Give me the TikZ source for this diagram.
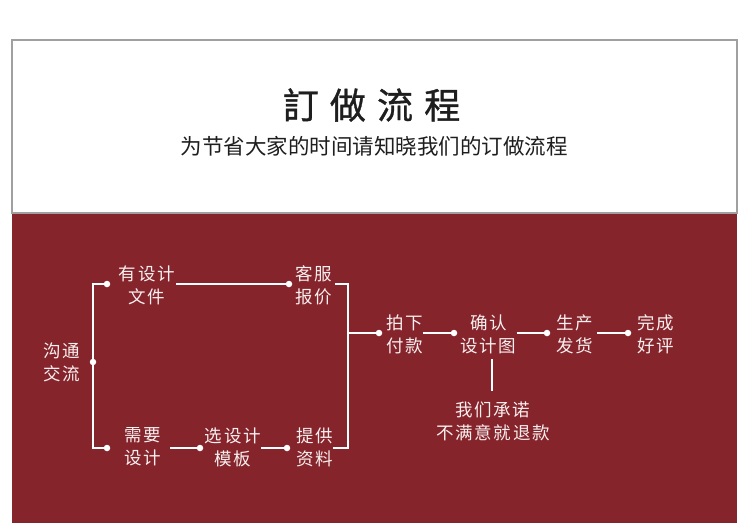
\documentclass[tikz,border=0pt]{standalone}
\usepackage{fontspec}
\newfontfamily\cjk{Noto Sans CJK SC}
\newfontfamily\cjkls[LetterSpace=10]{Noto Sans CJK SC}
\newfontfamily\cjktitle[LetterSpace=31,FakeBold=1]{Noto Sans CJK SC}
\definecolor{band}{RGB}{134,36,44}
\definecolor{framegray}{RGB}{160,160,160}
\definecolor{ink}{RGB}{30,30,30}
\definecolor{lbltext}{RGB}{248,240,240}
\newcommand\lk{\kern1.75pt}
\begin{document}
\begin{tikzpicture}[x=1pt,y=-1pt,
  lbl/.style={font=\cjkls\fontsize{17.5}{23}\selectfont, text=lbltext, align=center, inner sep=0pt},
  conn/.style={draw=white, line width=1.3pt},
  dotm/.style={circle, fill=white, inner sep=0pt, minimum size=6.5pt}]
\useasboundingbox (0,0) rectangle (750,531);
\fill[white] (0,0) rectangle (750,531);
\fill[band] (12,213) rectangle (737,523);
\draw[framegray, line width=2pt] (12,40) rectangle (737,213);

\node[font=\cjktitle\fontsize{36}{36}\selectfont, text=ink, inner sep=0pt] (title) at (366,105) {\kern11pt 訂做流程};
\node[font=\cjk\fontsize{21.5}{21.5}\selectfont, text=ink, inner sep=0pt] (sub) at (374,146) {为节省大家的时间请知晓我们的订做流程};

% labels
\node[lbl] (gt)  at (61,362)  {\lk 沟通\\\lk 交流};
\node[lbl] (ysj) at (146,285) {\lk 有设计\\\lk 文件};
\node[lbl] (kf)  at (312.5,285) {\lk 客服\\\lk 报价};
\node[lbl] (xy)  at (142,447) {\lk 需要\\\lk 设计};
\node[lbl] (xmb) at (232,447) {\lk 选设计\\\lk 模板};
\node[lbl] (tg)  at (314,447) {\lk 提供\\\lk 资料};
\node[lbl] (pxf) at (404,334) {\lk 拍下\\\lk 付款};
\node[lbl] (qr)  at (487.5,334) {\lk 确认\\\lk 设计图};
\node[lbl] (sc)  at (574,334) {\lk 生产\\\lk 发货};
\node[lbl] (wc)  at (655,334) {\lk 完成\\\lk 好评};
\node[lbl] (wm)  at (492,421) {\lk 我们承诺\\\lk 不满意就退款};

% corner coordinates
\coordinate (L1) at (93,284);
\coordinate (L2) at (93,448);
\coordinate (R1) at (348,284);
\coordinate (R2) at (348,448);
\coordinate (R0) at (348,333);

% connectors
\draw[conn] (107,284) coordinate (c1) -- (L1) -- (L2) -- (107,448) coordinate (c3);
\draw[conn, shorten <=1pt] (ysj.east |- R1) -- (289,284) coordinate (c2);
\draw[conn, shorten <=3pt] (kf.east |- R1) -- (R1) -- (R2) -- (tg.east |- R2);
\draw[conn] (R0) -- (379,333) coordinate (c6);
\draw[conn, shorten <=9pt] (xy.east |- R2) -- (200,448) coordinate (c4);
\draw[conn] (xmb.east |- R2) -- (287,448) coordinate (c5);
\draw[conn] (pxf.east |- R0) -- (454,333) coordinate (c7);
\draw[conn] (qr.east |- R0) -- (547,333) coordinate (c8);
\draw[conn, shorten <=4pt] (sc.east |- R0) -- (628,333) coordinate (c9);
\draw[conn, shorten <=5pt, shorten >=10pt] (qr.south -| wm.north) -- (wm.north);

% dots
\node[dotm] (d0) at (93,362) {};
\node[dotm] (d1) at (c1) {};
\node[dotm] (d2) at (c2) {};
\node[dotm] (d3) at (c3) {};
\node[dotm] (d4) at (c4) {};
\node[dotm] (d5) at (c5) {};
\node[dotm] (d6) at (c6) {};
\node[dotm] (d7) at (c7) {};
\node[dotm] (d8) at (c8) {};
\node[dotm] (d9) at (c9) {};
\end{tikzpicture}
\end{document}
